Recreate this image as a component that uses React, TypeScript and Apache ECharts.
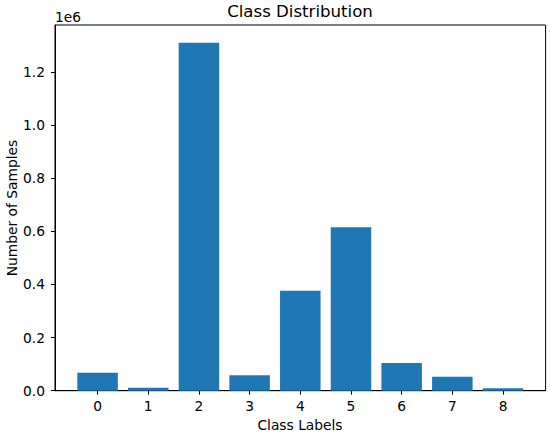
import React, { useEffect, useRef } from "react";
import * as echarts from "echarts";

const categories = [0, 1, 2, 3, 4, 5, 6, 7, 8];
const counts = [67800, 11300, 1310000, 58000, 376500, 615000, 104000, 52700, 9000];
const yTicks = [0, 200000, 400000, 600000, 800000, 1000000, 1200000];

const FONT = "DejaVu Sans";
const TICK_FS = 13.8;

export default function App() {
  const ref = useRef<HTMLDivElement>(null);
  useEffect(() => {
    if (!ref.current) return;
    const chart = echarts.init(ref.current, undefined, { renderer: "svg" });
    chart.setOption({
      animation: false,
      backgroundColor: "#ffffff",
      grid: {
        left: 55,
        right: 4.4,
        top: 25,
        bottom: 42.3,
        show: true,
        borderColor: "#000000",
        borderWidth: 1,
        backgroundColor: "transparent",
      },
      xAxis: {
        type: "value",
        min: -0.84,
        max: 8.84,
        splitLine: { show: false },
        axisLine: { show: true, onZero: false, lineStyle: { color: "#000", width: 1 } },
        axisTick: {
          show: true,
          customValues: categories,
          length: 4,
          lineStyle: { color: "#000" },
        },
        axisLabel: {
          customValues: categories,
          color: "#000",
          fontFamily: FONT,
          fontSize: TICK_FS,
          margin: 8,
          formatter: (v: number) => String(Math.round(v)),
        },
      },
      yAxis: {
        type: "value",
        min: 0,
        max: 1377000,
        splitLine: { show: false },
        axisLine: { show: true, onZero: false, lineStyle: { color: "#000", width: 1 } },
        axisTick: {
          show: true,
          customValues: yTicks,
          length: 4,
          lineStyle: { color: "#000" },
        },
        axisLabel: {
          customValues: yTicks,
          color: "#000",
          fontFamily: FONT,
          fontSize: TICK_FS,
          margin: 10,
          formatter: (v: number) => (v / 1e6).toFixed(1),
        },
      },
      series: [
        {
          type: "bar",
          data: categories.map((c, i) => [c, counts[i]]),
          barWidth: 40.5,
          itemStyle: { color: "#1f77b4" },
        },
      ],
      graphic: [
        {
          type: "text",
          x: 300,
          y: 11,
          style: {
            text: "Class Distribution",
            fontFamily: FONT,
            fontSize: 16.6,
            fill: "#000",
            align: "center",
            verticalAlign: "middle",
          },
        },
        {
          type: "text",
          x: 55,
          y: 17,
          style: {
            text: "1e6",
            fontFamily: FONT,
            fontSize: TICK_FS,
            fill: "#000",
            align: "left",
            verticalAlign: "middle",
          },
        },
        {
          type: "text",
          x: 300,
          y: 425,
          style: {
            text: "Class Labels",
            fontFamily: FONT,
            fontSize: TICK_FS,
            fill: "#000",
            align: "center",
            verticalAlign: "middle",
          },
        },
        {
          type: "text",
          x: 12,
          y: 208,
          rotation: Math.PI / 2,
          style: {
            text: "Number of Samples",
            fontFamily: FONT,
            fontSize: TICK_FS,
            fill: "#000",
            align: "center",
            verticalAlign: "middle",
          },
        },
      ],
    });
    return () => chart.dispose();
  }, []);
  return <div ref={ref} style={{ width: 550, height: 433, position: "absolute", left: 0, top: 0 }} />;
}
